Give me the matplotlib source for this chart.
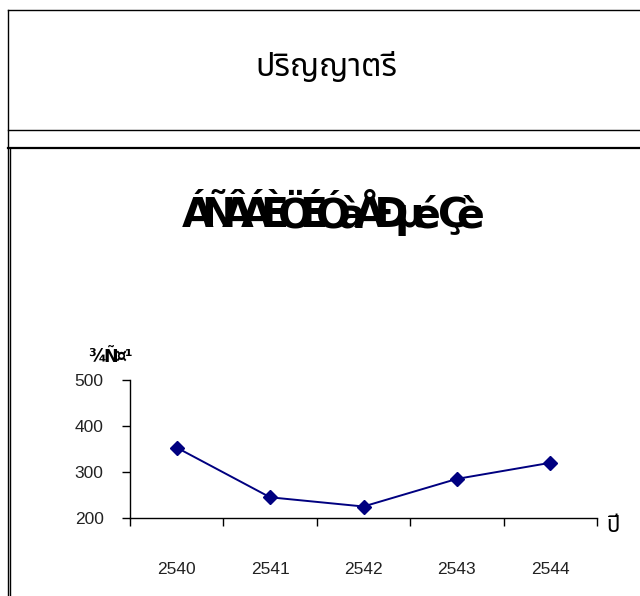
import numpy as np
import matplotlib
matplotlib.use("Agg")
import matplotlib.pyplot as plt
from matplotlib.lines import Line2D

years = ["2540", "2541", "2542", "2543", "2544"]
values = [353, 245, 225, 285, 320]
yticks = [200, 300, 400, 500]

header = "ปริญญาตรี"
title_chars = ["Á", "Ñ", "Â", "Á", "È", "Ö", "É", "Ó", "à", "Å", "Ð", "µ", "é", " ", "Ç", "è"]
ylabel_chars = ["¾", "Ñ", "¤", "¹"]
xlabel = "ปี"

W, H = 640, 596
fig = plt.figure(figsize=(W / 100, H / 100), dpi=100)
fig.patch.set_facecolor("white")
thai = ["Noto Sans Thai", "Loma", "Garuda", "Tlwg Typo", "Noto Sans", "DejaVu Sans"]


def px(x, y):
    return x / W, 1 - y / H


def fline(x0, y0, x1, y1, lw=1.0):
    a, b = px(x0, y0)
    c, d = px(x1, y1)
    fig.add_artist(Line2D([a, c], [b, d], color="black", lw=lw, transform=fig.transFigure))


# frames
fline(8, 10, 640, 10, 1.0)
fline(8, 10, 8, 596, 1.0)
fline(8, 130, 640, 130, 1.0)
fline(8, 148, 640, 148, 1.6)
fline(10, 148, 10, 596, 1.0)

fig.text(*px(326, 68), header, ha="center", va="center", fontsize=23,
         fontweight="bold", family=thai, color="black")

renderer = fig.canvas.get_renderer()


def squeezed(chars, cx, y, size, factor, align="center"):
    # glyphs drawn one by one, packed tighter than normal spacing
    widths = []
    for ch in chars:
        t = fig.text(0, 0, ch, fontsize=size, fontweight="bold", family="DejaVu Sans")
        widths.append(t.get_window_extent(renderer).width)
        t.remove()
    total = sum(w * factor for w in widths[:-1]) + widths[-1]
    x = cx - total / 2 if align == "center" else cx
    for ch, w in zip(chars, widths):
        fig.text(*px(x, y), ch, fontsize=size, fontweight="bold",
                 family="DejaVu Sans", ha="left", va="baseline")
        x += w * factor


squeezed(title_chars, 333, 227, 29.5, 0.61)
squeezed(ylabel_chars, 88, 362, 12.5, 0.85, align="left")

ax = fig.add_axes([130 / W, 1 - 518 / H, (597 - 130) / W, (518 - 380) / H])
x = np.arange(len(years))
ax.plot(x, values, color="#000080", lw=1.4, marker="D", markersize=7)
ax.set_xlim(-0.5, len(years) - 0.5)
ax.set_ylim(200, 500)
ax.set_yticks(yticks)
ax.set_yticklabels([str(v) for v in yticks], fontsize=12.5, family="Liberation Sans", color="#222222")
ax.set_xticks(np.arange(-0.5, len(years), 1))
ax.set_xticklabels([])
ax.set_xticks(x, minor=True)
ax.set_xticklabels(years, minor=True, fontsize=12.5, family="Liberation Sans", color="#222222")
ax.tick_params(axis="x", which="major", direction="out", length=6, width=1)
ax.tick_params(axis="x", which="minor", length=0, pad=32)
ax.tick_params(axis="y", direction="out", length=6, width=1, pad=13)
for s in ["top", "right"]:
    ax.spines[s].set_visible(False)
for s in ["left", "bottom"]:
    ax.spines[s].set_linewidth(1)
ax.patch.set_alpha(0)

fig.text(*px(613, 526), xlabel, ha="center", va="center", fontsize=16,
         fontweight="bold", family=thai)

fig.savefig("out.png", dpi=100)
